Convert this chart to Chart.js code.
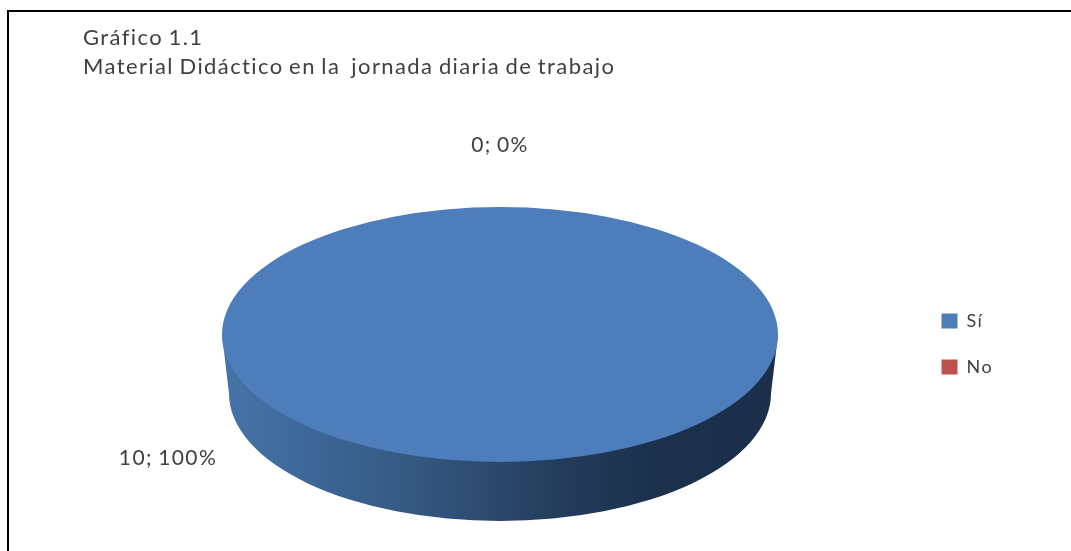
<!DOCTYPE html>
<html lang="es">
<head>
<meta charset="utf-8">
<title>Gráfico 1.1</title>
<script src="https://cdn.jsdelivr.net/npm/chart.js@4"></script>
<style>
    html, body { margin: 0; padding: 0; background: #fff; overflow: hidden; }
    #wrap { position: relative; width: 1071px; height: 551px; }
    #frame { position: absolute; left: 7px; top: 10px; right: 0; bottom: 0; border-left: 2px solid #000; border-top: 2px solid #000; }
    canvas { position: absolute; left: 0; top: 0; filter: blur(0.6px); }
</style>
</head>
<body>
<div id="wrap">
    <div id="frame"></div>
    <canvas id="chart" width="1071" height="551"></canvas>
</div>
<script>
const categories = ["Sí", "No"];
const values = [10, 0];
const sliceColors = ["#4d7ebb", "#c0504d"];
const titleLines = ["Gráfico 1.1", "Material Didáctico en la  jornada diaria de trabajo"];

const TEXT_COLOR = "#404040";
const PIE = { cx: 500, cy: 334.5, rx: 278, ry: 127.5, sideCy: 393.5, sideRx: 271 };
// where each data label sits (centre of the text)
const LABEL_POS = [{ x: 168, y: 458 }, { x: 500, y: 145 }];

function setTextSpacing(ctx) {
    // the original text is stretched wide with tight word gaps
    ctx.letterSpacing = "1.4px";
    ctx.wordSpacing = "-1.5px";
}

// top of the pie is a flat circle from the library, squashed into an ellipse
const tiltPlugin = {
    id: "tilt",
    beforeLayout(chart) {
        setTextSpacing(chart.ctx);
    },
    beforeDraw(chart) {
        setTextSpacing(chart.ctx);
    },
    beforeDatasetsDraw(chart) {
        const arc = chart.getDatasetMeta(0).data[0];
        const ctx = chart.ctx;

        const side = ctx.createLinearGradient(PIE.cx - PIE.rx, 0, PIE.cx + PIE.rx, 0);
        side.addColorStop(0, "#4673a8");
        side.addColorStop(0.15, "#3e6899");
        side.addColorStop(0.35, "#345880");
        side.addColorStop(0.6, "#243d5c");
        side.addColorStop(0.78, "#1b304b");
        side.addColorStop(1, "#1b2f4a");

        ctx.save();
        ctx.fillStyle = side;
        ctx.beginPath();
        ctx.moveTo(PIE.cx - PIE.rx, PIE.cy);
        ctx.lineTo(PIE.cx - PIE.sideRx, PIE.sideCy);
        ctx.ellipse(PIE.cx, PIE.sideCy, PIE.sideRx, PIE.ry, 0, Math.PI, 0, true);
        ctx.lineTo(PIE.cx + PIE.rx, PIE.cy);
        ctx.closePath();
        ctx.fill();
        ctx.restore();

        ctx.save();
        ctx.translate(PIE.cx, PIE.cy);
        ctx.scale(PIE.rx / arc.outerRadius, PIE.ry / arc.outerRadius);
        ctx.translate(-arc.x, -arc.y);
    },
    afterDatasetsDraw(chart) {
        const ctx = chart.ctx;
        ctx.restore();

        const total = values.reduce((a, b) => a + b, 0);
        ctx.save();
        ctx.font = "21px Lato";
        ctx.fillStyle = TEXT_COLOR;
        ctx.textAlign = "center";
        ctx.textBaseline = "middle";
        values.forEach((v, i) => {
            const pct = Math.round(v / total * 100);
            ctx.fillText(`${v}; ${pct}%`, LABEL_POS[i].x, LABEL_POS[i].y);
        });
        ctx.restore();
    },
};

new Chart(document.getElementById("chart"), {
    type: "pie",
    data: {
        labels: categories,
        datasets: [{ data: values, backgroundColor: sliceColors, borderWidth: 0 }],
    },
    options: {
        responsive: false,
        animation: false,
        layout: { padding: { left: 83, right: 68, top: 23 } },
        plugins: {
            tooltip: { enabled: false },
            title: {
                display: true,
                text: titleLines,
                align: "start",
                color: TEXT_COLOR,
                font: { family: "Lato", size: 22, weight: "normal", lineHeight: 1.32 },
                padding: { top: 0, bottom: 56 },
            },
            legend: {
                position: "right",
                fullSize: false,
                labels: {
                    boxWidth: 16,
                    boxHeight: 15,
                    padding: 28,
                    color: TEXT_COLOR,
                    font: { family: "Lato", size: 18 },
                },
            },
        },
    },
    plugins: [tiltPlugin],
});
</script>
</body>
</html>
